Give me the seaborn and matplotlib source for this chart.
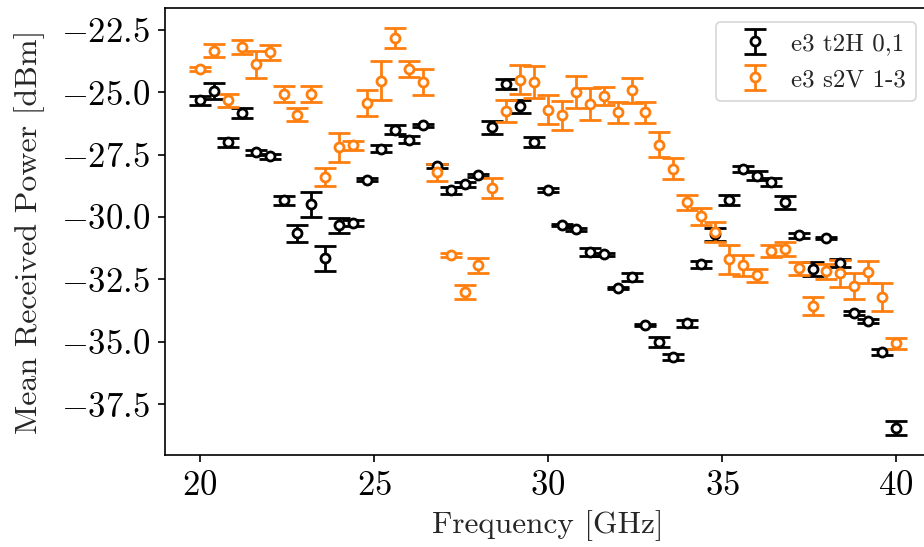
import numpy as np
import matplotlib
matplotlib.use("Agg")
import matplotlib.pyplot as plt
import seaborn as sns

# Measurement frequencies [GHz]
freq = [20.0, 20.4, 20.8, 21.2, 21.6, 22.0, 22.4, 22.8, 23.2, 23.6,
        24.0, 24.4, 24.8, 25.2, 25.6, 26.0, 26.4, 26.8, 27.2, 27.6,
        28.0, 28.4, 28.8, 29.2, 29.6, 30.0, 30.4, 30.8, 31.2, 31.6,
        32.0, 32.4, 32.8, 33.2, 33.6, 34.0, 34.4, 34.8, 35.2, 35.6,
        36.0, 36.4, 36.8, 37.2, 37.6, 38.0, 38.4, 38.8, 39.2, 39.6,
        40.0]

# e3 t2H 0,1: mean received power [dBm] and its uncertainty
t2h_mean = [-25.33, -24.97, -27.01, -25.84, -27.41, -27.57, -29.33, -30.66, -29.48, -31.66,
            -30.33, -30.24, -28.50, -27.26, -26.50, -26.90, -26.33, -27.97, -28.93, -28.68,
            -28.33, -26.41, -24.66, -25.57, -27.00, -28.93, -30.33, -30.50, -31.41, -31.50,
            -32.84, -32.41, -34.33, -35.01, -35.60, -34.26, -31.90, -30.70, -29.33, -28.08,
            -28.34, -28.60, -29.41, -30.74, -32.08, -30.84, -31.84, -33.84, -34.17, -35.41,
            -38.44]
t2h_err = [0.17, 0.32, 0.17, 0.20, 0.10, 0.10, 0.17, 0.33, 0.50, 0.50,
           0.30, 0.12, 0.05, 0.13, 0.19, 0.13, 0.05, 0.08, 0.13, 0.10,
           0.05, 0.27, 0.20, 0.27, 0.20, 0.08, 0.05, 0.05, 0.15, 0.05,
           0.05, 0.17, 0.05, 0.20, 0.13, 0.15, 0.15, 0.27, 0.20, 0.12,
           0.18, 0.15, 0.27, 0.10, 0.27, 0.05, 0.17, 0.08, 0.08, 0.12,
           0.28]

# e3 s2V 1-3: mean received power [dBm] and its uncertainty
s2v_mean = [-24.06, -23.33, -25.33, -23.17, -23.88, -23.40, -25.06, -25.90, -25.06, -28.40,
            -27.21, -27.13, -25.44, -24.54, -22.84, -24.06, -24.60, -28.21, -31.54, -33.00,
            -31.94, -28.84, -25.77, -24.50, -24.60, -25.70, -25.93, -25.00, -25.48, -25.14,
            -25.81, -24.93, -25.81, -27.10, -28.06, -29.40, -29.97, -30.61, -31.70, -31.94,
            -32.34, -31.37, -31.28, -32.06, -33.57, -32.17, -32.26, -32.77, -32.20, -33.21,
            -35.06]
s2v_err = [0.08, 0.27, 0.27, 0.28, 0.55, 0.30, 0.32, 0.25, 0.32, 0.35,
           0.58, 0.19, 0.53, 0.79, 0.40, 0.32, 0.51, 0.35, 0.08, 0.28,
           0.30, 0.41, 0.44, 0.59, 0.65, 0.57, 0.57, 0.65, 0.65, 0.36,
           0.41, 0.49, 0.43, 0.49, 0.43, 0.30, 0.35, 0.40, 0.58, 0.43,
           0.27, 0.23, 0.28, 0.27, 0.36, 0.30, 0.53, 0.52, 0.45, 0.55,
           0.23]

series_labels = ["e3 t2H 0,1", "e3 s2V 1-3"]
y_ticks = [-37.5, -35.0, -32.5, -30.0, -27.5, -25.0, -22.5]
x_ticks = [20, 25, 30, 35, 40]

sns.set_theme(style="ticks")
plt.rcParams.update({
    "font.family": ["cmr10", "DejaVu Serif"],
    "mathtext.fontset": "cm",
    "axes.formatter.use_mathtext": True,
    "axes.edgecolor": "black",
    "axes.linewidth": 1.2,
    "xtick.color": "black",
    "ytick.color": "black",
    "xtick.major.size": 5,
    "ytick.major.size": 5,
    "xtick.major.width": 1.2,
    "ytick.major.width": 1.2,
})

palette = sns.color_palette("tab10")
colors = ["black", palette[1]]

fig = plt.figure(figsize=(9.24, 5.47), dpi=100)
# the axes runs slightly past the right edge of the canvas
ax = fig.add_axes([0.1788, 0.1682, 0.8286, 0.8172])

for mean, err, color, label in zip([t2h_mean, s2v_mean], [t2h_err, s2v_err],
                                   colors, series_labels):
    ax.errorbar(freq, mean, yerr=err, fmt="o", color=color, ecolor=color,
                markersize=6.5, markerfacecolor="white", markeredgecolor=color,
                markeredgewidth=2.0, elinewidth=2.0, capsize=8, capthick=2.2,
                label=label)

ax.set_xlim(19, 41)
ax.set_xticks(x_ticks)
ax.set_yticks(y_ticks)
ax.tick_params(axis="both", labelsize=25, pad=6)
ax.set_xlabel("Frequency [GHz]", fontsize=22.5, labelpad=6)
ax.set_ylabel("Mean Received Power [dBm]", fontsize=23, labelpad=11)

leg = ax.legend(loc="upper right", fontsize=18, frameon=True, fancybox=True,
                borderpad=0.4, labelspacing=0.55, handlelength=2.3,
                handletextpad=0.3, borderaxespad=0.58)
leg.get_frame().set_edgecolor("0.8")
leg.get_frame().set_linewidth(1.2)

fig.savefig("out.png", dpi=100)
